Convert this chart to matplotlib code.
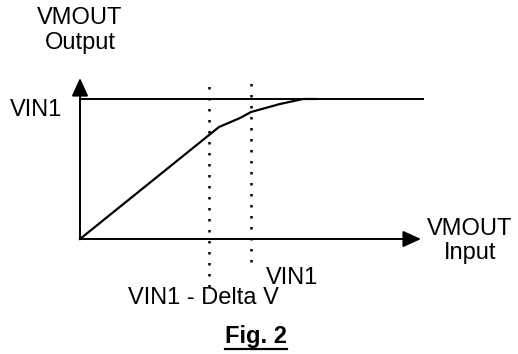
"""Fig. 2 transfer curve: VMOUT output vs. VMOUT input, clipped at VIN1."""
import matplotlib
matplotlib.use("Agg")
import matplotlib.pyplot as plt

plt.rcParams["font.family"] = ["Liberation Sans", "DejaVu Sans"]

# curve (origin = axis corner, units ~ px)
vin_x = [0, 139, 160, 171, 200, 223, 236]
vout_y = [0, 112, 121, 127, 135, 140, 140]
vin1_level = 140
vin1_x = 171            # VIN1 on the input axis
delta_x = 129           # VIN1 - Delta V
x_end = 344             # right end of the VIN1 limit line
x_arrow = 341
y_arrow = 161

fig = plt.figure(figsize=(5.18, 3.54), dpi=100)
ax = fig.add_axes([0, 0, 1, 1])
ax.set_xlim(-80, 438)
ax.set_ylim(-115, 239)
ax.axis("off")

lw = 1.4

# axes with arrow heads
arr = dict(arrowstyle="-|>,head_length=1.1,head_width=0.5", color="black",
           lw=lw, mutation_scale=10, shrinkA=0, shrinkB=0)
ax.annotate("", xy=(0, y_arrow), xytext=(0, 0), arrowprops=arr)
ax.annotate("", xy=(x_arrow, 0), xytext=(0, 0), arrowprops=arr)

# VIN1 limit and transfer curve
ax.plot([0, x_end], [vin1_level, vin1_level], color="black", lw=lw,
        solid_capstyle="butt")
ax.plot(vin_x, vout_y, color="black", lw=1.6, solid_joinstyle="round")

# dotted markers
dot = dict(color="black", lw=1.8, linestyle=(0, (1, 3.4)), dash_capstyle="butt")
ax.plot([delta_x, delta_x], [-48, 156], **dot)
ax.plot([vin1_x, vin1_x], [-23, 157], **dot)

fs = 17
ax.text(0, 221, "VMOUT", ha="center", va="center", fontsize=fs)
ax.text(0, 196, "Output", ha="center", va="center", fontsize=fs)
ax.text(-18, 129, "VIN1", ha="right", va="center", fontsize=fs)
ax.text(390, 10, "VMOUT", ha="center", va="center", fontsize=fs)
ax.text(390, -14, "Input", ha="center", va="center", fontsize=fs)
ax.text(212, -39, "VIN1", ha="center", va="center", fontsize=fs)
ax.text(123, -59, "VIN1 - Delta V", ha="center", va="center", fontsize=fs)
cap = ax.text(176, -97, "Fig. 2", ha="center", va="center", fontsize=fs,
              fontweight="bold")

# underline the caption
fig.canvas.draw()
bb = cap.get_window_extent().transformed(ax.transData.inverted())
ax.plot([bb.x0, bb.x1], [bb.y0 - 1, bb.y0 - 1], color="black", lw=1.6)

fig.savefig("out.png", dpi=100)
